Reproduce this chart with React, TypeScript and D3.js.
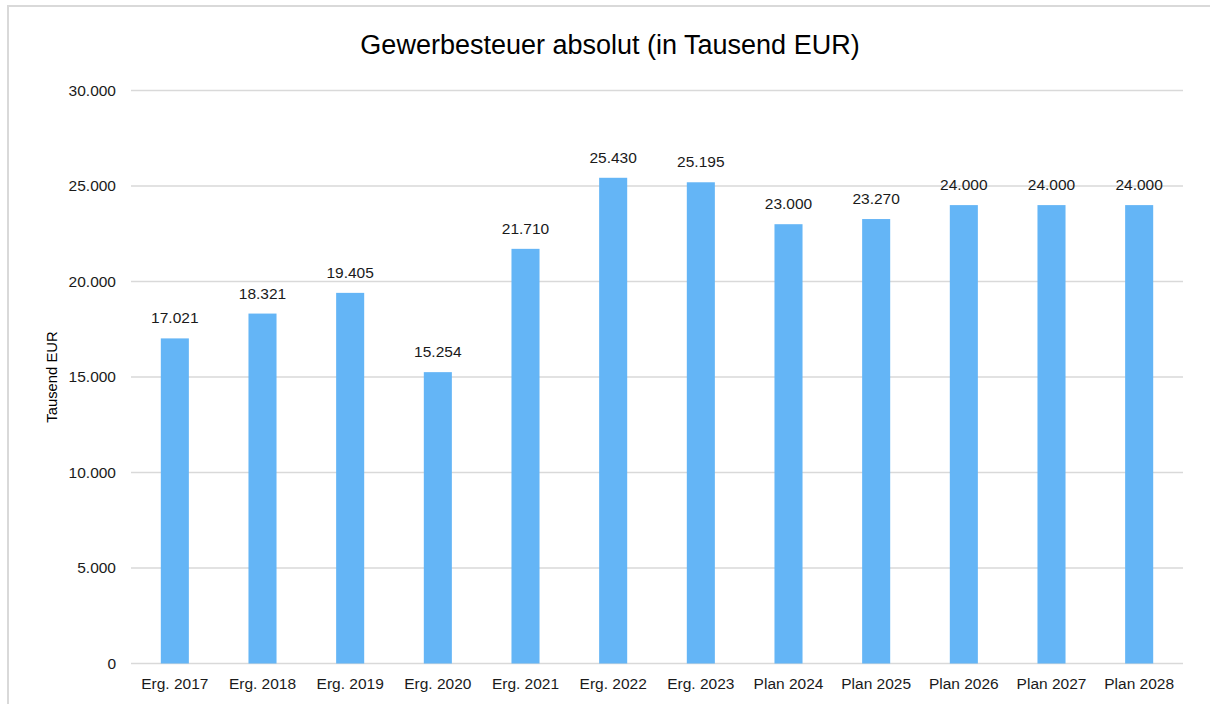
import React, { useEffect, useRef } from 'react';
import * as d3 from 'd3';

const categories = [
  'Erg. 2017', 'Erg. 2018', 'Erg. 2019', 'Erg. 2020', 'Erg. 2021', 'Erg. 2022',
  'Erg. 2023', 'Plan 2024', 'Plan 2025', 'Plan 2026', 'Plan 2027', 'Plan 2028',
];
const values = [17021, 18321, 19405, 15254, 21710, 25430, 25195, 23000, 23270, 24000, 24000, 24000];
const yTicks = [0, 5000, 10000, 15000, 20000, 25000, 30000];
const title = 'Gewerbesteuer absolut (in Tausend EUR)';
const yTitle = 'Tausend EUR';

const de = d3.formatLocale({ decimal: ',', thousands: '.', grouping: [3], currency: ['', ' €'] });
const fmt = de.format(',.0f');

export default function App() {
  const svgRef = useRef<SVGSVGElement>(null);

  useEffect(() => {
    const width = 1210;
    const height = 704;
    const left = 131;
    const right = 1183;
    const top = 90.5;
    const bottom = 663.5;
    const font = 'Arial, "Liberation Sans", sans-serif';

    const svg = d3.select(svgRef.current).attr('width', width).attr('height', height).html(null);

    // frame
    svg.append('rect')
      .attr('x', 8).attr('y', 6)
      .attr('width', 1230).attr('height', 730)
      .attr('fill', '#fff')
      .attr('stroke', '#d9d9d9')
      .attr('stroke-width', 2);

    const x = d3.scaleBand<string>()
      .domain(categories)
      .range([left, right])
      .paddingInner(0.68)
      .paddingOuter(0.34);

    const y = d3.scaleLinear().domain([0, 30000]).range([bottom, top]);

    // grid
    svg.append('g')
      .selectAll('line')
      .data(yTicks)
      .join('line')
      .attr('x1', left)
      .attr('x2', right)
      .attr('y1', (d) => y(d))
      .attr('y2', (d) => y(d))
      .attr('stroke', '#d9d9d9')
      .attr('stroke-width', 1.5);

    // y tick labels
    svg.append('g')
      .selectAll('text')
      .data(yTicks)
      .join('text')
      .attr('x', 116)
      .attr('y', (d) => y(d))
      .attr('dy', '0.35em')
      .attr('text-anchor', 'end')
      .attr('font-family', font)
      .attr('font-size', 15.5)
      .attr('fill', '#1a1a1a')
      .text((d) => fmt(d));

    // bars
    svg.append('g')
      .selectAll('rect')
      .data(values)
      .join('rect')
      .attr('x', (d, i) => x(categories[i]) as number)
      .attr('y', (d) => y(d))
      .attr('width', x.bandwidth())
      .attr('height', (d) => y(0) - y(d))
      .attr('fill', '#64b5f6');

    // value labels
    svg.append('g')
      .selectAll('text')
      .data(values)
      .join('text')
      .attr('x', (d, i) => (x(categories[i]) as number) + x.bandwidth() / 2)
      .attr('y', (d) => y(d) - 15)
      .attr('text-anchor', 'middle')
      .attr('font-family', font)
      .attr('font-size', 15.5)
      .attr('fill', '#1a1a1a')
      .text((d) => fmt(d));

    // x labels
    svg.append('g')
      .selectAll('text')
      .data(categories)
      .join('text')
      .attr('x', (d) => (x(d) as number) + x.bandwidth() / 2)
      .attr('y', 689)
      .attr('text-anchor', 'middle')
      .attr('font-family', font)
      .attr('font-size', 15.5)
      .attr('fill', '#1a1a1a')
      .text((d) => d);

    // titles
    svg.append('text')
      .attr('x', 610)
      .attr('y', 54)
      .attr('text-anchor', 'middle')
      .attr('font-family', font)
      .attr('font-size', 27)
      .attr('fill', '#000')
      .text(title);

    svg.append('text')
      .attr('transform', `translate(57, ${(top + bottom) / 2}) rotate(-90)`)
      .attr('text-anchor', 'middle')
      .attr('font-family', font)
      .attr('font-size', 14.8)
      .attr('fill', '#000')
      .text(yTitle);
  }, []);

  return (
    <svg
      ref={svgRef}
      style={{ position: 'absolute', left: 0, top: 0, display: 'block' }}
    />
  );
}
